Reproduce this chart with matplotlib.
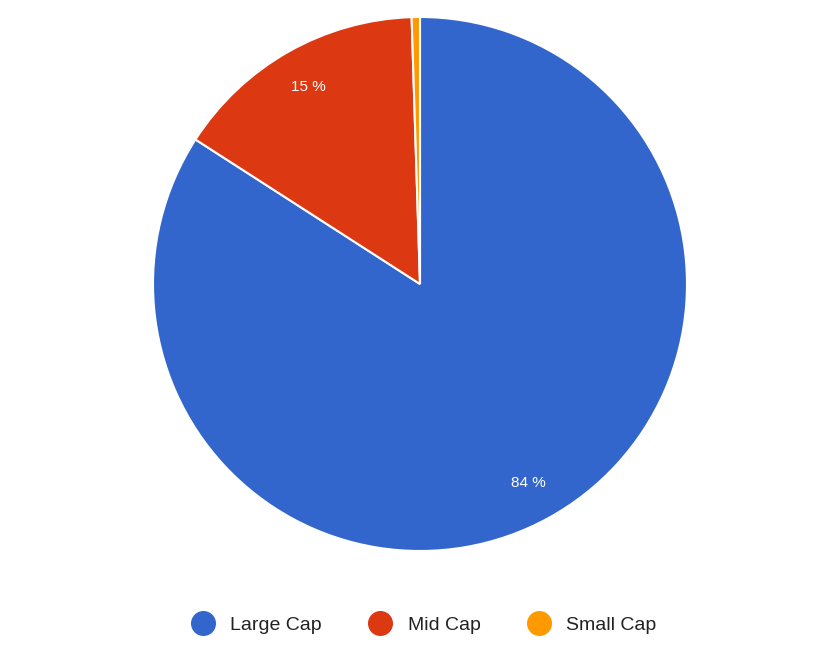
import matplotlib
matplotlib.use("Agg")
import matplotlib.pyplot as plt
from matplotlib.lines import Line2D

labels = ["Large Cap", "Mid Cap", "Small Cap"]
values = [84.1, 15.4, 0.5]
colors = ["#3366cc", "#dc3912", "#ff9900"]

fig = plt.figure(figsize=(8.4, 6.5), dpi=100)
ax = fig.add_axes([420/840 - 267/840, 1 - (284+267)/650, 534/840, 534/650])
wedges, texts, autotexts = ax.pie(values, colors=colors, startangle=90, counterclock=False,
       autopct=lambda p: f"{p:.0f} %" if p > 5 else "", pctdistance=0.85,
       wedgeprops=dict(edgecolor="white", linewidth=1.5),
       textprops=dict(color="white", fontsize=11, family="Liberation Sans"))
ax.set_xlim(-1, 1)
ax.set_ylim(-1, 1)
ax.set_aspect("equal")

handles = [Line2D([], [], marker="o", linestyle="", markersize=17, markerfacecolor=c, markeredgecolor=c) for c in colors]
fig.legend(handles, labels, loc="center", bbox_to_anchor=(0.5, 1 - 625/650), ncol=3, frameon=False,
           prop=dict(family="Liberation Sans", size=14), labelcolor="#222222",
           handletextpad=0.4, columnspacing=2.0)
fig.savefig("out.png", dpi=100)
